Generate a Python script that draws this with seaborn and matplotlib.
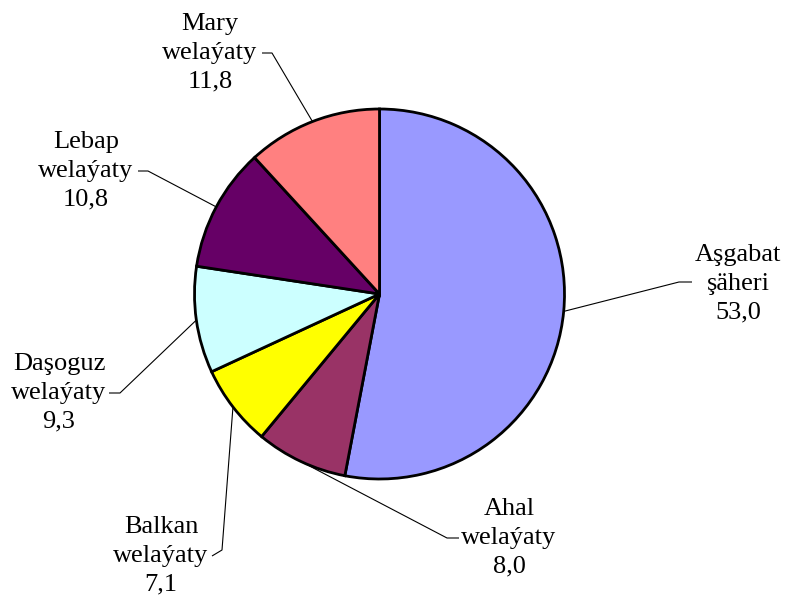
import numpy as np
import matplotlib
matplotlib.use("Agg")
import matplotlib.pyplot as plt
import seaborn as sns

sns.set_theme(style="white")
plt.rcParams['font.family'] = ['Liberation Serif', 'DejaVu Serif']

# data
regions = ['Aşgabat\nşäheri', 'Ahal\nwelaýaty', 'Balkan\nwelaýaty',
           'Daşoguz\nwelaýaty', 'Lebap\nwelaýaty', 'Mary\nwelaýaty']
shares = [53.0, 8.0, 7.1, 9.3, 10.8, 11.8]
colors = ['#9999FF', '#993366', '#FFFF00', '#CCFFFF', '#660066', '#FF8080']

W, H = 785, 604
fig = plt.figure(figsize=(W / 100, H / 100), dpi=100)
ax = fig.add_axes([0, 0, 1, 1])

cx, cy, R = 379.5, H - 294, 185
wedges, _ = ax.pie(shares, colors=colors, startangle=90, counterclock=False,
                   center=(cx, cy), radius=R,
                   wedgeprops=dict(edgecolor='black', linewidth=2.0))
ax.set_xlim(0, W)
ax.set_ylim(0, H)
ax.set_aspect('auto')
ax.axis('off')

# label layout (pixel coords from top-left): text centre, elbow, dash end
layout = [
    ((738, 284), (679, 282), (692, 282)),
    ((509, 538), (447, 538), (459, 538)),
    ((161, 556), (222, 550), (212, 556)),
    ((59, 393), (120, 393), (109, 393)),
    ((86, 171), (148, 171), (138, 171)),
    ((210, 53), (272, 53), (262, 53)),
]

for w, name, val, (txt, elbow, dash) in zip(wedges, regions, shares, layout):
    mid = np.deg2rad((w.theta1 + w.theta2) / 2)
    px, py = cx + R * np.cos(mid), cy + R * np.sin(mid)
    ax.plot([px, elbow[0], dash[0]], [py, H - elbow[1], H - dash[1]],
            color='black', lw=0.8, solid_capstyle='butt')
    label = name + '\n' + f"{val:.1f}".replace('.', ',')
    ax.text(txt[0], H - txt[1], label, ha='center', va='center',
            multialignment='center', fontsize=19, linespacing=1.4,
            color='black')

fig.savefig('out.png', dpi=100, facecolor='white')
